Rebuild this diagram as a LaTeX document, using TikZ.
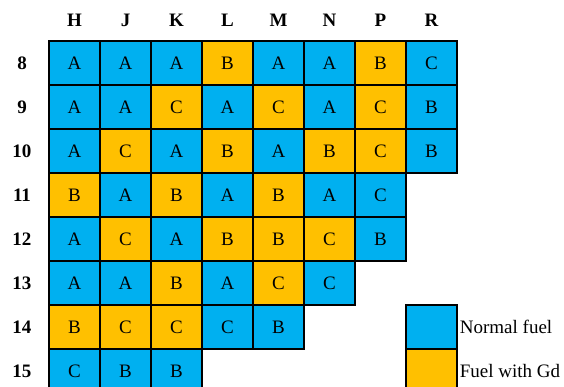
\documentclass[tikz,border=0pt]{standalone}
\usepackage{fontspec}
\setmainfont{Liberation Serif}
\usetikzlibrary{positioning}
\definecolor{normalfuel}{HTML}{00B0F0}
\definecolor{gdfuel}{HTML}{FFC000}
\tikzset{
  cell/.style={draw=black, fill=#1, line width=1.4pt, minimum width=51pt, minimum height=44pt,
               inner sep=0pt, font=\fontsize{19}{22}\selectfont},
  cell/.default=normalfuel,
  nf/.style={cell=normalfuel},
  gd/.style={cell=gdfuel},
  hdr/.style={font=\fontsize{19}{22}\selectfont\bfseries, inner sep=1pt},
  ltext/.style={font=\fontsize{19}{22}\selectfont, inner sep=1pt},
}

\begin{document}
\begin{tikzpicture}[x=1pt, y=-1pt]
  \useasboundingbox (0,0) rectangle (564,387);
  % column and row labels
  \foreach \col [count=\i from 0] in {H,J,K,L,M,N,P,R}
    \node[hdr] (h\col) at (74.5+51*\i, 20) {\col};
  \foreach \row [count=\r from 0] in {8,...,15}
    \node[hdr] (r\row) at (22, 63+44*\r) {\row};
  % core map
  \foreach \row/\cells [count=\r from 0] in {
      8/{nf/A,nf/A,nf/A,gd/B,nf/A,nf/A,gd/B,nf/C},
      9/{nf/A,nf/A,gd/C,nf/A,gd/C,nf/A,gd/C,nf/B},
      10/{nf/A,gd/C,nf/A,gd/B,nf/A,gd/B,gd/C,nf/B},
      11/{gd/B,nf/A,gd/B,nf/A,gd/B,nf/A,nf/C},
      12/{nf/A,gd/C,nf/A,gd/B,gd/B,gd/C,nf/B},
      13/{nf/A,nf/A,gd/B,nf/A,gd/C,nf/C},
      14/{gd/B,gd/C,gd/C,nf/C,nf/B},
      15/{nf/C,nf/B,nf/B}}
    \foreach \f/\t [count=\i from 0] in \cells
      \node[\f] (c\row-\i) at (74.5+51*\i, 63+44*\r) {\t};
  % legend
  \node[cell=normalfuel] (keyN) at (431.5, 327) {};
  \node[cell=gdfuel] (keyG) at (431.5, 371) {};
  \node[ltext, right=1pt of keyN] (lblN) {Normal fuel};
  \node[ltext, right=1pt of keyG] (lblG) {Fuel with Gd};
\end{tikzpicture}
\end{document}
